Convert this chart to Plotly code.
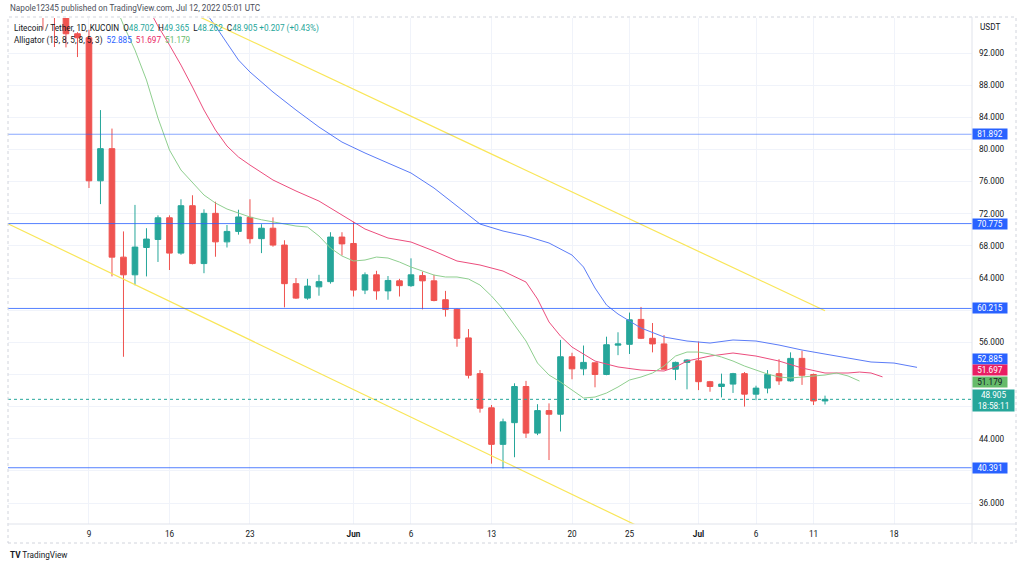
import pandas as pd
import plotly.graph_objects as go

# ---------------- data ----------------
DATES = pd.date_range("2022-05-02", "2022-07-12", freq="D").strftime("%Y-%m-%d").tolist()
OPEN = [102.0, 104.5, 102.5, 110.0, 99.5, 97.0, 94.4, 93.9, 76.1, 80.1, 66.6, 64.4, 67.8, 68.8,
        71.5, 67.1, 73.0, 65.8, 72.05, 68.5, 69.8, 71.55, 68.9, 70.2, 68.1, 63.3, 61.5, 62.9,
        63.55, 69.1, 68.3, 62.5, 64.4, 62.4, 63.65, 63.05, 64.3, 63.65, 61.3, 60.1, 56.55, 52.1,
        47.85, 43.3, 46.0, 50.5, 44.7, 47.5, 47.05, 54.2, 52.7, 53.45, 52.0, 55.65, 55.75, 58.85,
        56.5, 55.8, 52.65, 53.5, 53.7, 51.1, 50.5, 50.8, 52.1, 49.55, 50.3, 52.1, 51.2, 54.0,
        52.0, 48.702]
HIGH = [106.0, 105.5, 111.0, 111.5, 100.5, 97.5, 94.6, 94.9, 84.9, 82.6, 69.8, 73.1, 70.2, 71.8,
        71.8, 73.8, 74.3, 72.55, 73.5, 70.6, 72.5, 73.8, 70.7, 71.55, 68.7, 64.0, 63.9, 64.4,
        69.7, 69.7, 71.0, 64.7, 64.9, 64.25, 63.9, 66.45, 64.8, 64.4, 62.4, 60.2, 57.65, 52.55,
        48.2, 46.5, 50.9, 51.2, 48.3, 48.4, 56.3, 54.7, 55.6, 53.5, 56.7, 57.25, 59.7, 60.4,
        58.4, 56.9, 53.6, 53.9, 56.1, 51.2, 52.1, 52.2, 52.3, 50.6, 52.55, 53.9, 54.75, 54.95,
        52.1, 49.365]
LOW = [100.5, 101.0, 101.5, 94.9, 92.75, 92.7, 91.5, 75.2, 73.2, 64.2, 54.2, 63.1, 64.2, 66.0,
       65.0, 66.9, 65.7, 64.6, 66.65, 67.8, 69.4, 68.3, 67.1, 67.9, 60.35, 61.4, 61.3, 61.8,
       63.3, 66.8, 61.7, 62.0, 61.3, 61.3, 61.7, 62.9, 60.1, 61.1, 59.2, 55.45, 51.5, 47.25,
       40.9, 40.3, 41.7, 44.1, 44.45, 41.35, 44.9, 51.4, 51.9, 50.4, 51.9, 54.4, 54.55, 56.4,
       54.75, 52.6, 51.3, 50.15, 50.05, 49.85, 49.15, 49.7, 48.0, 48.8, 49.65, 50.7, 51.1, 50.7,
       48.2, 48.262]
CLOSE = [104.5, 102.5, 110.0, 99.5, 97.0, 94.4, 93.9, 76.1, 80.1, 66.6, 64.4, 67.85, 68.85, 71.5,
         67.1, 73.0, 65.8, 72.05, 68.5, 69.8, 71.6, 68.9, 70.2, 68.1, 63.3, 61.5, 63.0, 63.55,
         69.1, 68.25, 62.5, 64.4, 62.4, 63.7, 63.05, 64.4, 63.65, 61.2, 60.1, 56.5, 51.9, 47.8,
         43.3, 46.1, 50.5, 44.7, 47.5, 47.05, 54.2, 52.7, 53.5, 52.0, 55.7, 55.8, 58.8, 56.5,
         55.8, 52.65, 53.5, 53.8, 51.1, 50.5, 50.8, 52.1, 49.55, 50.3, 52.0, 51.2, 54.0, 51.9,
         48.698, 48.905]

# Alligator lines
JAW_X = ["2022-05-18", "2022-05-19", "2022-05-20", "2022-05-21", "2022-05-22", "2022-05-23",
         "2022-05-25", "2022-05-27", "2022-05-29", "2022-05-31", "2022-06-02", "2022-06-04",
         "2022-06-06", "2022-06-08", "2022-06-10", "2022-06-12", "2022-06-14", "2022-06-16",
         "2022-06-18", "2022-06-20", "2022-06-21", "2022-06-22", "2022-06-23", "2022-06-24",
         "2022-06-26", "2022-06-28", "2022-06-30", "2022-07-02", "2022-07-04", "2022-07-06",
         "2022-07-08", "2022-07-10", "2022-07-12", "2022-07-14", "2022-07-16", "2022-07-18",
         "2022-07-20"]
JAW_Y = [99.3, 97.4, 95.36, 93.24, 91.13, 89.64, 87.15, 84.91, 82.79, 80.92, 79.56, 78.31,
         77.07, 75.2, 72.96, 70.72, 69.85, 69.23, 68.36, 66.86, 65.37, 62.76, 60.64, 59.52,
         57.78, 56.66, 56.16, 55.91, 56.29, 56.16, 55.66, 55.04, 54.54, 54.05, 53.55, 53.42,
         52.885]
TEETH_X = ["2022-05-14", "2022-05-15", "2022-05-16", "2022-05-17", "2022-05-18", "2022-05-19",
           "2022-05-20", "2022-05-21", "2022-05-22", "2022-05-23", "2022-05-25", "2022-05-27",
           "2022-05-29", "2022-05-31", "2022-06-02", "2022-06-04", "2022-06-06", "2022-06-08",
           "2022-06-10", "2022-06-12", "2022-06-14", "2022-06-16", "2022-06-17", "2022-06-18",
           "2022-06-19", "2022-06-20", "2022-06-21", "2022-06-22", "2022-06-24", "2022-06-26",
           "2022-06-28", "2022-06-29", "2022-06-30", "2022-07-02", "2022-07-04", "2022-07-06",
           "2022-07-08", "2022-07-10", "2022-07-12", "2022-07-14", "2022-07-15", "2022-07-16",
           "2022-07-17"]
TEETH_Y = [98.0, 95.36, 93.0, 90.5, 87.77, 84.91, 82.42, 80.43, 79.06, 78.06, 76.2, 74.83,
           73.58, 71.84, 70.1, 68.98, 68.48, 67.36, 66.12, 65.62, 64.87, 63.5, 61.39, 58.53,
           56.78, 55.41, 54.54, 53.67, 52.93, 52.55, 52.43, 52.93, 53.67, 54.29, 54.67, 54.29,
           53.67, 52.8, 52.18, 52.18, 52.3, 52.18, 51.697]
LIPS_X = pd.date_range("2022-05-11", "2022-07-15", freq="D").strftime("%Y-%m-%d").tolist()
LIPS_Y = [99.0, 95.48, 92.37, 88.64, 83.91, 79.93, 77.44, 75.82, 74.33, 73.33, 72.59, 72.09,
          71.59, 71.25, 70.97, 70.7, 70.47, 70.35, 69.23, 67.73, 66.74, 66.12, 66.24, 66.61,
          66.49, 65.99, 65.37, 64.87, 64.37, 64.13, 64.13, 63.88, 63.13, 61.76, 60.14, 58.15,
          56.16, 53.42, 51.93, 51.06, 50.06, 49.07, 49.19, 49.69, 50.44, 51.31, 51.68, 52.18,
          53.05, 54.29, 54.79, 54.79, 54.54, 54.17, 53.67, 53.05, 52.55, 52.05, 51.68, 51.56,
          51.68, 51.81, 51.93, 52.18, 51.81, 51.179]

# Drawn trend lines and horizontal levels
TREND_UP_X = ["2022-05-09", "2022-07-12"]
TREND_UP_Y = [102.97, 59.92]
TREND_LO_X = ["2022-05-02", "2022-06-26"]
TREND_LO_Y = [70.73, 32.95]
LEVELS = [81.892, 70.775, 60.215, 40.391]

Y_TICKS = [36, 40, 44, 48, 52, 56, 60, 64, 68, 72, 76, 80, 84, 88, 92]
Y_TICKTEXT = ["36.000", "", "44.000", "", "", "56.000", "", "64.000", "68.000", "72.000",
              "76.000", "80.000", "84.000", "88.000", "92.000"]
X_TICKS = ["2022-05-09", "2022-05-16", "2022-05-23", "2022-06-01", "2022-06-06", "2022-06-13",
           "2022-06-20", "2022-06-25", "2022-07-01", "2022-07-06", "2022-07-11", "2022-07-18"]
X_TICKTEXT = ["9", "16", "23", "<b>Jun</b>", "6", "13", "20", "25", "<b>Jul</b>", "6", "11", "18"]

# ---------------- styles ----------------
UP = "#26a69a"
DOWN = "#ef5350"
BLUE = "#2962ff"
JAW_C = "#5b7cf7"
TEETH_C = "#ec4d7d"
LIPS_C = "#8fcf8f"
FONT = "Roboto"
TXT = "#131722"
FS = 8.2

W, H = 1024, 567
L, R, T, B = 8, 52, 18, 43
PW, PH = W - L - R, H - T - B


def px_x(sx):
    return (sx - L) / PW


def px_y(sy):
    return (H - B - sy) / PH


fig = go.Figure()

fig.add_trace(go.Candlestick(
    x=DATES, open=OPEN, high=HIGH, low=LOW, close=CLOSE,
    increasing=dict(line=dict(color=UP, width=1), fillcolor=UP),
    decreasing=dict(line=dict(color=DOWN, width=1), fillcolor=DOWN),
    whiskerwidth=0, showlegend=False, hoverinfo="skip"))

fig.add_trace(go.Scatter(x=JAW_X, y=JAW_Y, mode="lines",
                         line=dict(color=JAW_C, width=1), showlegend=False, hoverinfo="skip"))
fig.add_trace(go.Scatter(x=TEETH_X, y=TEETH_Y, mode="lines",
                         line=dict(color=TEETH_C, width=1), showlegend=False, hoverinfo="skip"))
fig.add_trace(go.Scatter(x=LIPS_X, y=LIPS_Y, mode="lines",
                         line=dict(color=LIPS_C, width=1), showlegend=False, hoverinfo="skip"))
fig.add_trace(go.Scatter(x=TREND_UP_X, y=TREND_UP_Y, mode="lines",
                         line=dict(color="#f9e658", width=1.2), showlegend=False, hoverinfo="skip"))
fig.add_trace(go.Scatter(x=TREND_LO_X, y=TREND_LO_Y, mode="lines",
                         line=dict(color="#f9e658", width=1.2), showlegend=False, hoverinfo="skip"))

shapes = []
for i, lv in enumerate(LEVELS):
    shapes.append(dict(type="line", xref="paper", yref="y", x0=0, x1=1, y0=lv, y1=lv,
                       line=dict(color="rgba(41,98,255,0.55)" if i == 0 else "rgba(41,98,255,0.8)",
                                 width=1), layer="above"))
# last price dotted line
shapes.append(dict(type="line", xref="paper", yref="y", x0=0, x1=1, y0=CLOSE[-1], y1=CLOSE[-1],
                   line=dict(color=UP, width=1, dash="dot"), layer="above"))
# frames / separators
frame_c = "#e0e3eb"
shapes += [
    dict(type="rect", xref="paper", yref="paper", x0=px_x(8), x1=px_x(1016), y0=px_y(543), y1=px_y(17),
         line=dict(color="#d1d4dc", width=1, dash="dot")),
    dict(type="line", xref="paper", yref="paper", x0=px_x(972), x1=px_x(972), y0=px_y(543), y1=px_y(17),
         line=dict(color=frame_c, width=1)),
    dict(type="line", xref="paper", yref="paper", x0=px_x(8), x1=px_x(1016), y0=px_y(524), y1=px_y(524),
         line=dict(color=frame_c, width=1)),
]

x0 = pd.Timestamp("2022-05-09") - pd.Timedelta(days=7.04)
x1 = pd.Timestamp("2022-05-09") + pd.Timedelta(days=76.78)

annotations = []
# top caption
annotations.append(dict(xref="paper", yref="paper", x=px_x(8), y=px_y(8), xanchor="left", yanchor="middle",
                        text="Napole12345 published on TradingView.com, Jul 12, 2022 05:01 UTC",
                        showarrow=False, font=dict(family=FONT, size=FS, color="#4a4e59")))
# header
tc = UP
chg = CLOSE[-1] - CLOSE[-2]
hdr1 = ("Litecoin / Tether, 1D, KUCOIN&nbsp;&nbsp;O<span style='color:%s'>%.3f</span>&nbsp;&nbsp;H<span style='color:%s'>%.3f</span>"
        "&nbsp;&nbsp;L<span style='color:%s'>%.3f</span>&nbsp;&nbsp;C<span style='color:%s'>%.3f</span>&nbsp;"
        "<span style='color:%s'>+%.3f (+%.2f%%)</span>") % (tc, OPEN[-1], tc, HIGH[-1], tc, LOW[-1], tc, CLOSE[-1], tc,
                                                         chg, chg / CLOSE[-2] * 100)
annotations.append(dict(xref="paper", yref="paper", x=px_x(12), y=px_y(29), xanchor="left", yanchor="middle",
                        text=hdr1, showarrow=False, font=dict(family=FONT, size=FS, color=TXT)))
hdr2 = ("Alligator (13, 8, 5, 8, 5, 3)&nbsp;&nbsp;<span style='color:%s'>%.3f</span>&nbsp;&nbsp;"
        "<span style='color:%s'>%.3f</span>&nbsp;&nbsp;<span style='color:%s'>%.3f</span>") % (
    BLUE, JAW_Y[-1], "#e91e63", TEETH_Y[-1], "#66bb6a", LIPS_Y[-1])
annotations.append(dict(xref="paper", yref="paper", x=px_x(12), y=px_y(41), xanchor="left", yanchor="middle",
                        text=hdr2, showarrow=False, font=dict(family=FONT, size=FS, color=TXT)))
# axis unit
annotations.append(dict(xref="paper", yref="paper", x=px_x(978), y=px_y(27), xanchor="left", yanchor="middle",
                        text="USDT", showarrow=False, font=dict(family=FONT, size=FS, color=TXT)))
# footer logo
annotations.append(dict(xref="paper", yref="paper", x=px_x(8), y=px_y(555), xanchor="left", yanchor="middle",
                        text="<b>TV</b> TradingView", showarrow=False, font=dict(family=FONT, size=FS, color=TXT)))


def price_label(val, bg, fg, shift=0, text=None, width=34):
    annotations.append(dict(xref="paper", yref="y", x=1, y=val, xanchor="left", yanchor="middle",
                            xshift=0, yshift=shift, text=text or ("%.3f" % val), showarrow=False,
                            bgcolor=bg, borderpad=0, width=width, align="center",
                            font=dict(family=FONT, size=8.2, color=fg)))


for lv in LEVELS:
    price_label(lv, BLUE, "white")
price_label(JAW_Y[-1], BLUE, "white", shift=8)
price_label(TEETH_Y[-1], "#e91e63", "white", shift=7)
price_label(LIPS_Y[-1], "#66bb6a", TXT, shift=-1)
price_label(CLOSE[-1], UP, "white", shift=-1, text="%.3f<br>18:58:11" % CLOSE[-1], width=41)

fig.update_layout(
    width=W, height=H,
    margin=dict(l=L, r=R, t=T, b=B),
    paper_bgcolor="white", plot_bgcolor="white",
    showlegend=False,
    shapes=shapes, annotations=annotations,
    xaxis=dict(type="date", range=[x0, x1], rangeslider=dict(visible=False),
               tickvals=X_TICKS, ticktext=X_TICKTEXT, showgrid=True, gridcolor="#f0f3fa",
               zeroline=False, showline=False, ticks="", ticklabelstandoff=4,
               tickfont=dict(family=FONT, size=FS, color=TXT)),
    yaxis=dict(side="right", range=[33.39, 96.36], tickvals=Y_TICKS, ticktext=Y_TICKTEXT,
               showgrid=True, gridcolor="#f0f3fa", zeroline=False, showline=False, ticks="",
               ticklabelstandoff=6, tickfont=dict(family=FONT, size=FS, color=TXT)),
)

fig.write_html("out.html", config={"displayModeBar": False},
               post_script="document.body.style.margin='0px';")
